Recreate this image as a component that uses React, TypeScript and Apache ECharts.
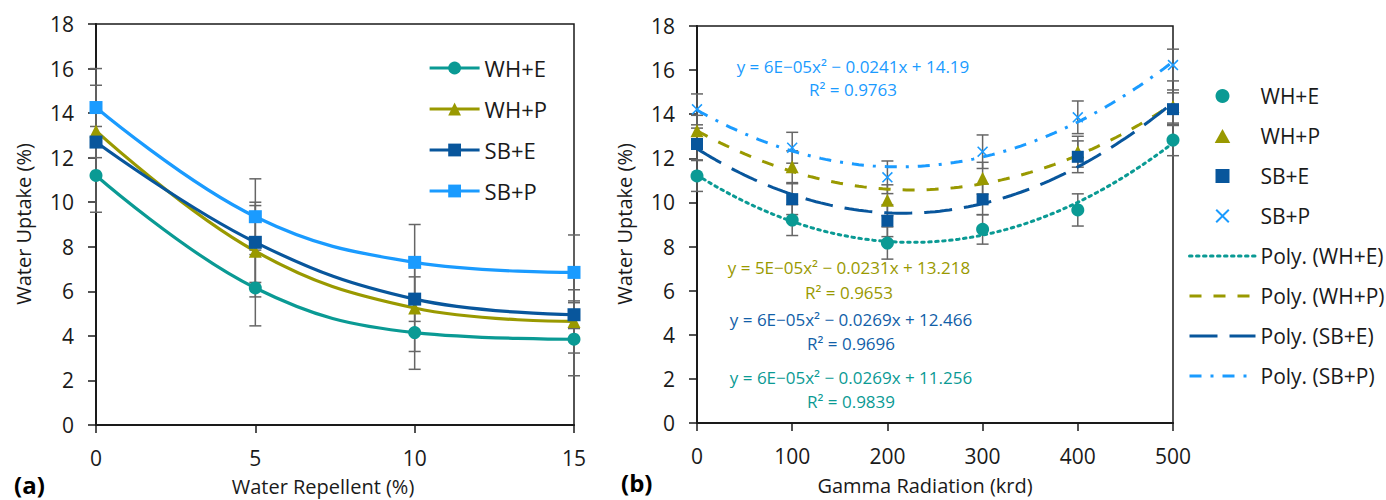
import React, { useEffect, useRef } from "react";
import * as echarts from "echarts";

// ---------- Data: panel (a) ----------
const repellentX = [0, 5, 10, 15];
const repWHE = [11.2, 6.15, 4.15, 3.85];
const repWHP = [13.2, 7.8, 5.25, 4.65];
const repSBE = [12.7, 8.2, 5.65, 4.95];
const repSBP = [14.25, 9.35, 7.3, 6.85];
const repErrWHE = [1.65, 1.7, 1.65, 1.64];
const repErrWHP = [2.05, 2.05, 1.95, 1.42];
const repErrSBE = [0.7, 1.8, 1.0, 0.62];
const repErrSBP = [1.75, 1.7, 1.7, 1.68];

// ---------- Data: panel (b) ----------
const gammaX = [0, 100, 200, 300, 400, 500];
const gamWHE = [11.2, 9.2, 8.16, 8.78, 9.66, 12.83];
const gamWHP = [13.25, 11.62, 10.1, 11.1, 12.3, 14.35];
const gamSBE = [12.65, 10.15, 9.17, 10.14, 12.07, 14.23];
const gamSBP = [14.22, 12.48, 11.14, 12.3, 13.86, 16.23];
const gamErrWHE = [0.7, 0.7, 0.73, 0.67, 0.73, 0.71];
const gamErrWHP = [0.7, 0.72, 0.7, 0.72, 0.7, 0.75];
const gamErrSBE = [0.72, 0.7, 0.72, 0.7, 0.72, 0.74];
const gamErrSBP = [0.7, 0.7, 0.74, 0.76, 0.74, 0.72];

const seriesNames = ["WH+E", "WH+P", "SB+E", "SB+P"];
const trendNames = ["Poly. (WH+E)", "Poly. (WH+P)", "Poly. (SB+E)", "Poly. (SB+P)"];
const equations = [
  "y = 6E\u221205x\u00b2 \u2212 0.0269x + 11.256",
  "y = 5E\u221205x\u00b2 \u2212 0.0231x + 13.218",
  "y = 6E\u221205x\u00b2 \u2212 0.0269x + 12.466",
  "y = 6E\u221205x\u00b2 \u2212 0.0241x + 14.19",
];
const rSquared = ["R\u00b2 = 0.9839", "R\u00b2 = 0.9653", "R\u00b2 = 0.9696", "R\u00b2 = 0.9763"];

const xTicksA = { min: 0, max: 15, interval: 5 };
const xTicksB = { min: 0, max: 500, interval: 100 };
const yTicks = { min: 0, max: 18, interval: 2 };

const COLORS = ["#0a9a94", "#999900", "#08569c", "#1a9bff"];
const EQ_COLORS = ["#0a9a94", "#999900", "#1160a8", "#1a9bff"];
const FONT = "Open Sans";
const CROSS = "path://M1,0L5,4L9,0L10,1L6,5L10,9L9,10L5,6L1,10L0,9L4,5L0,1Z";
const TRI = "path://M5,0L10,9L0,9Z";
const SQUARE = "path://M0,0L10,0L10,10L0,10Z";

function quadFit(xs: number[], ys: number[]) {
  let n = xs.length, sx = 0, sx2 = 0, sx3 = 0, sx4 = 0, sy = 0, sxy = 0, sx2y = 0;
  for (let i = 0; i < n; i++) {
    const x = xs[i], y = ys[i];
    sx += x; sx2 += x * x; sx3 += x * x * x; sx4 += x * x * x * x;
    sy += y; sxy += x * y; sx2y += x * x * y;
  }
  const A = [
    [n, sx, sx2, sy],
    [sx, sx2, sx3, sxy],
    [sx2, sx3, sx4, sx2y],
  ];
  for (let c = 0; c < 3; c++) {
    for (let r = c + 1; r < 3; r++) {
      const f = A[r][c] / A[c][c];
      for (let k = c; k < 4; k++) A[r][k] -= f * A[c][k];
    }
  }
  const sol = [0, 0, 0];
  for (let r = 2; r >= 0; r--) {
    let s = A[r][3];
    for (let k = r + 1; k < 3; k++) s -= A[r][k] * sol[k];
    sol[r] = s / A[r][r];
  }
  return sol;
}

function trendPoints(xs: number[], ys: number[]) {
  const [c0, c1, c2] = quadFit(xs, ys);
  const pts: number[][] = [];
  const lo = xs[0], hi = xs[xs.length - 1];
  for (let i = 0; i <= 100; i++) {
    const x = lo + ((hi - lo) * i) / 100;
    pts.push([x, c0 + c1 * x + c2 * x * x]);
  }
  return pts;
}

function errorSeries(xs: number[], ys: number[], errs: number[], axis: number) {
  return {
    type: "custom",
    xAxisIndex: axis,
    yAxisIndex: axis,
    silent: true,
    z: 1,
    data: xs.map((x, i) => [x, ys[i] - errs[i], ys[i] + errs[i]]),
    encode: { x: 0, y: [1, 2] },
    renderItem: (_p: any, api: any) => {
      const lo = api.coord([api.value(0), api.value(1)]);
      const hi = api.coord([api.value(0), api.value(2)]);
      const w = 6;
      const style = { stroke: "#666666", lineWidth: 1.5 };
      return {
        type: "group",
        children: [
          { type: "line", shape: { x1: hi[0], y1: hi[1], x2: lo[0], y2: lo[1] }, style },
          { type: "line", shape: { x1: hi[0] - w, y1: hi[1], x2: hi[0] + w, y2: hi[1] }, style },
          { type: "line", shape: { x1: lo[0] - w, y1: lo[1], x2: lo[0] + w, y2: lo[1] }, style },
        ],
      };
    },
  };
}

const axisCommon = {
  axisLine: { show: true, onZero: false, lineStyle: { color: "#1a1a1a", width: 2 } },
  axisTick: { show: true, length: 8, lineStyle: { color: "#1a1a1a", width: 1.5 } },
  splitLine: { show: false },
};

export default function App() {
  const ref = useRef<HTMLDivElement>(null);
  useEffect(() => {
    if (!ref.current) return;
    const chart = echarts.init(ref.current, null, { renderer: "svg" });

    const repY = [repWHE, repWHP, repSBE, repSBP];
    const repE = [repErrWHE, repErrWHP, repErrSBE, repErrSBP];
    const gamY = [gamWHE, gamWHP, gamSBE, gamSBP];
    const gamE = [gamErrWHE, gamErrWHP, gamErrSBE, gamErrSBP];
    const symbolsA = ["circle", "triangle", "rect", "rect"];
    const symbolsB = ["circle", "triangle", "rect", CROSS];
    const legendIconsB = ["circle", TRI, SQUARE, CROSS];
    const sizesB = [13, 13, 12, 11];
    const trendDash: any[] = [[2.5, 4.5], [12, 12], [28, 12], [12, 9, 3, 9]];

    const series: any[] = [];
    for (let i = 0; i < 4; i++) series.push(errorSeries(repellentX, repY[i], repE[i], 0));
    for (let i = 0; i < 4; i++) series.push(errorSeries(gammaX, gamY[i], gamE[i], 1));
    for (let i = 0; i < 4; i++) {
      series.push({
        type: "line",
        name: seriesNames[i],
        xAxisIndex: 0,
        yAxisIndex: 0,
        smooth: 0.4,
        symbol: symbolsA[i],
        symbolSize: 13,
        showSymbol: true,
        z: 3,
        color: COLORS[i],
        lineStyle: { color: COLORS[i], width: 3.2 },
        itemStyle: { color: COLORS[i] },
        data: repellentX.map((x, j) => [x, repY[i][j]]),
      });
    }
    for (let i = 0; i < 4; i++) {
      series.push({
        type: "line",
        name: trendNames[i],
        xAxisIndex: 1,
        yAxisIndex: 1,
        symbol: "none",
        z: 2,
        color: COLORS[i],
        lineStyle: { color: COLORS[i], width: 3, type: trendDash[i], cap: i === 0 ? "round" : "butt" },
        data: trendPoints(gammaX, gamY[i]),
      });
    }
    for (let i = 0; i < 4; i++) {
      series.push({
        type: "scatter",
        name: seriesNames[i] + " (b)",
        xAxisIndex: 1,
        yAxisIndex: 1,
        symbol: symbolsB[i],
        symbolSize: sizesB[i],
        symbolKeepAspect: true,
        z: 4,
        color: COLORS[i],
        itemStyle: { color: COLORS[i], opacity: 1 },
        data: gammaX.map((x, j) => [x, gamY[i][j]]),
      });
    }

    const textBase = { fontFamily: FONT, fontSize: 21, color: "#1a1a1a" };

    const graphic: any[] = [
      { type: "text", left: 14, top: 472, style: { text: "(a)", fontFamily: FONT, fontSize: 24, fontWeight: "bold", fill: "#000" } },
      { type: "text", left: 621, top: 470, style: { text: "(b)", fontFamily: FONT, fontSize: 24, fontWeight: "bold", fill: "#000" } },
      { type: "text", x: 323, y: 486, style: { text: "Water Repellent (%)", fontFamily: FONT, fontSize: 20, fill: "#1a1a1a", align: "center", verticalAlign: "middle" } },
      { type: "text", x: 925, y: 485, style: { text: "Gamma Radiation (krd)", fontFamily: FONT, fontSize: 20, fill: "#1a1a1a", align: "center", verticalAlign: "middle" } },
      { type: "text", x: 23, y: 224, rotation: Math.PI / 2, style: { text: "Water Uptake (%)", fontFamily: FONT, fontSize: 20, fill: "#1a1a1a", align: "center", verticalAlign: "middle" } },
      { type: "text", x: 624, y: 224, rotation: Math.PI / 2, style: { text: "Water Uptake (%)", fontFamily: FONT, fontSize: 20, fill: "#1a1a1a", align: "center", verticalAlign: "middle" } },
    ];
    const eqPos = [
      [851, 377, 401],
      [849, 267, 292],
      [851, 319, 343],
      [853, 66, 89],
    ];
    for (let i = 0; i < 4; i++) {
      graphic.push({ type: "text", x: eqPos[i][0], y: eqPos[i][1], style: { text: equations[i], fontFamily: FONT, fontSize: 17, fill: EQ_COLORS[i], align: "center", verticalAlign: "middle" } });
      graphic.push({ type: "text", x: eqPos[i][0], y: eqPos[i][2], style: { text: rSquared[i], fontFamily: FONT, fontSize: 17, fill: EQ_COLORS[i], align: "center", verticalAlign: "middle" } });
    }

    const legendB: any[] = [
      ...seriesNames.map((n, i) => ({ name: n + " (b)", icon: legendIconsB[i] })),
      ...trendNames.map((n) => ({ name: n, itemStyle: { opacity: 0, color: "transparent", borderWidth: 0 } })),
    ];

    chart.setOption({
      animation: false,
      backgroundColor: "#ffffff",
      textStyle: { fontFamily: FONT },
      grid: [
        { left: 96, top: 24, width: 478, height: 401, show: true, borderColor: "#1a1a1a", borderWidth: 1.5, backgroundColor: "transparent" },
        { left: 697, top: 26, width: 476, height: 397, show: true, borderColor: "#1a1a1a", borderWidth: 1.5, backgroundColor: "transparent" },
      ],
      xAxis: [
        { type: "value", gridIndex: 0, ...xTicksA, ...axisCommon, axisLabel: { ...textBase, margin: 22 } },
        { type: "value", gridIndex: 1, ...xTicksB, ...axisCommon, axisLabel: { ...textBase, margin: 22 } },
      ],
      yAxis: [
        { type: "value", gridIndex: 0, ...yTicks, ...axisCommon, axisLabel: { ...textBase, margin: 22 } },
        { type: "value", gridIndex: 1, ...yTicks, ...axisCommon, axisLabel: { ...textBase, margin: 22 } },
      ],
      legend: [
        {
          orient: "vertical",
          left: 423,
          top: 51,
          itemWidth: 50,
          itemHeight: 16,
          itemGap: 17,
          data: seriesNames,
          lineStyle: { width: 3.2 },
          textStyle: { ...textBase, fontSize: 22, lineHeight: 24 },
          selectedMode: false,
        },
        {
          orient: "vertical",
          left: 1183,
          top: 79,
          itemWidth: 66,
          itemHeight: 14,
          itemGap: 16,
          symbolKeepAspect: true,
          data: legendB,
          lineStyle: { width: 3 },
          formatter: (n: string) => n.replace(" (b)", ""),
          textStyle: { ...textBase, lineHeight: 24 },
          selectedMode: false,
        },
      ],
      graphic,
      series,
    });
    return () => chart.dispose();
  }, []);
  return <div ref={ref} style={{ position: "fixed", left: 0, top: 0, width: 1386, height: 500 }} />;
}
